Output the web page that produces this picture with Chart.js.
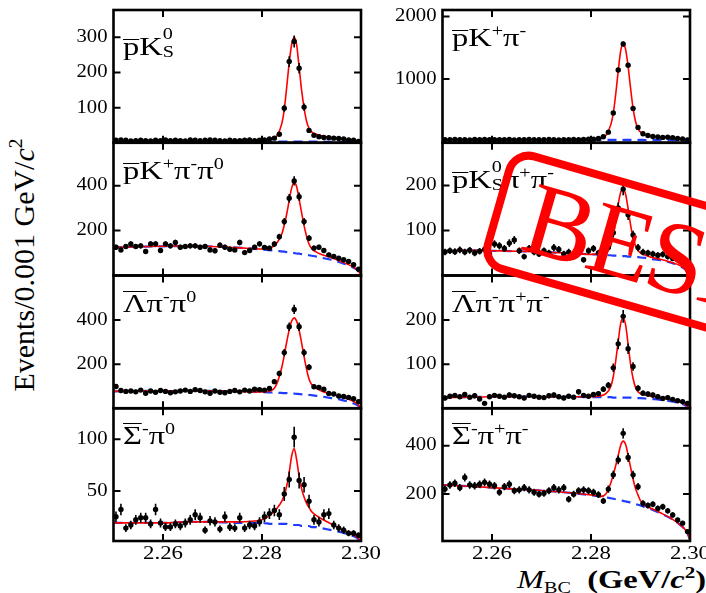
<!DOCTYPE html>
<html>
<head>
<meta charset="utf-8">
<title>M_BC fits</title>
<script src="https://cdn.jsdelivr.net/npm/chart.js@4.4.1/dist/chart.umd.min.js"></script>
<style>
  body { margin: 0; width: 706px; height: 593px; overflow: hidden; background: #fff; position: relative;
         font-family: "Liberation Serif", "Times New Roman", serif; color: #000; }
  canvas { position: absolute; }
  .tag { position: absolute; font-size: 26px; line-height: 26px; white-space: nowrap;
         transform: scaleX(1.25); transform-origin: 0 0; }
  .ov, .ovc { position: relative; }
  .ov::before, .ovc::before { content: ''; position: absolute; left: 0; right: 0; border-top: 1.6px solid #000; }
  .ov::before { top: 7px; }
  .ovc::before { top: 2px; }
  .tag sup { font-size: 62%; vertical-align: 0; position: relative; top: -0.62em; }
  .stk { display: inline-block; font-size: 62%; line-height: 18px; vertical-align: -2px; }
  .sp { font-size: 65%; position: relative; top: -0.6em; }
  .sb { font-size: 62%; position: relative; top: 0.3em; }
  #ylabel { position: absolute; left: 26px; top: 265px; font-size: 30px; line-height: 30px; white-space: nowrap;
            transform: translate(-50%, -50%) rotate(-90deg); }
  #xlabel { position: absolute; left: 517px; top: 567px; font-size: 26px; line-height: 26px; white-space: nowrap;
            transform: scaleX(1.25); transform-origin: 0 0; }
  #stamp { position: absolute; left: 512px; top: 146px; width: 420px; height: 125px; box-sizing: border-box;
           border: 8px solid #ff0000; border-radius: 24px; transform: rotate(16deg); transform-origin: 0 0; }
  #stamp span { position: absolute; left: 26px; top: 2px; font-size: 104px; line-height: 104px; color: #ff0000;
                letter-spacing: -3px; }
</style>
</head>
<body>
<div id="ylabel">Events/0.001 GeV/<i>c</i><span class="sp">2</span></div>
<div id="xlabel"><i>M</i><span class="sb">BC</span>&nbsp;&nbsp;<b>(GeV/<i>c</i><span class="sp">2</span>)</b></div>

<script>
// 0.001 GeV bins from 2.25 to 2.30
const binLo = 2.250;
const binWidth = 0.001;

// events per bin
const countsPK0S = [8,9,8,6,7,8,7,6,8,7, 9,7,8,7,6,9,8,7,8,9, 8,7,6,8,7,7,8,9,7,8,
  9,12,14,25,99,231,288,212,102,36, 22,18,16,15,14,13,12,9,8,5];
const countsPKPi = [30,28,32,27,30,26,31,29,33,28, 30,27,29,31,26,30,28,32,29,27, 30,31,28,26,29,30,33,28,31,35,
  38,50,75,150,456,1145,1560,1221,527,226, 124,97,82,72,66,70,62,50,40,25];
const countsPKPiPi0 = [126,114,129,140,129,132,107,141,141,111, 141,132,147,126,129,132,132,126,129,114,
  110,135,126,117,114,147,102,111,126,141, 125,121,140,173,240,344,421,351,240,166, 122,126,111,92,85,77,70,62,48,28];
const countsPKsPiPi = [52,55,53,57,52,56,50,54,58,48, 70,66,60,72,79,55,42,60,52,48, 55,50,62,58,48,52,45,50,35,55,
  60,50,52,62,95,150,192,135,90,62, 52,50,48,45,47,42,38,35,30,15];
const countsLamPiPi0 = [100,82,78,80,76,84,70,80,74,82, 78,72,76,80,84,78,86,82,76,70, 80,74,72,78,82,76,84,80,88,86,
  84,91,122,159,253,370,448,370,253,187, 99,96,88,69,66,57,55,51,45,32];
const countsLamPiPiPi = [24,28,30,27,32,26,29,22,12,27, 30,28,26,31,29,27,24,30,28,26, 25,29,31,27,24,28,26,38,30,28,
  32,34,44,53,92,146,208,135,95,46, 35,33,31,27,23,25,21,18,16,12];
const countsSigPi0 = [25,32,14,17,22,24,24,18,32,19, 15,15,18,16,19,22,27,24,12,21, 20,13,25,15,14,24,14,17,16,20,
  25,28,31,27,47,61,102,60,56,40, 22,20,27,28,17,14,12,9,9,7];
const countsSigPiPi = [220,237,244,226,268,237,234,240,248,240, 234,207,230,240,213,217,226,217,207,199,
  203,213,226,217,226,178,199,213,217,213, 207,197,171,220,279,341,451,351,279,230, 161,152,157,140,147,130,113,92,79,44];

// x positions where the fit curves were read
const fitX = [2.250,2.255,2.260,2.265,2.270,2.275,2.280,2.282,2.283,2.284,2.2845,2.285,2.2855,2.286,2.2865,
  2.287,2.2875,2.288,2.2885,2.289,2.2895,2.290,2.291,2.292,2.294,2.296,2.298,2.299,2.2995,2.300];

// total fit (red)
const fitPK0S = [5,5,5,5,5,5,6,10,20,55,95,160,228,280,300,278,215,150,100,62,42,32,25,21,16,12,7,4,2,0];
const fitPKPi = [28,28,28,29,29,29,31,50,95,270,450,760,1130,1450,1570,1470,1200,850,530,320,205,150,105,88,72,62,45,30,18,0];
const fitPKPiPi0 = [125,128,130,131,129,124,118,126,145,185,225,275,335,390,415,395,340,280,222,175,140,120,104,94,79,62,43,30,19,0];
const fitPKsPiPi = [55,56,55,54,52,50,47,48,52,66,88,120,158,185,192,180,148,112,84,66,56,50,45,41,36,30,22,15,9,0];
const fitLamPiPi0 = [78,80,81,81,80,78,76,83,113,187,241,302,357,396,410,395,354,297,235,179,134,110,92,80,66,54,38,26,16,0];
const fitLamPiPiPi = [25,26,27,27,27,27,27,29,34,50,72,108,152,192,205,188,145,100,68,48,38,34,31,28,25,21,15,10,6,0];
const fitSigPi0 = [19,19,19,20,20,20,22,28,33,40,46,55,68,84,91,80,64,52,44,38,34,30,26,23,18,13,9,6,4,0];
const fitSigPiPi = [237,232,226,220,214,206,196,190,200,245,280,318,360,402,419,405,360,310,262,222,195,172,152,142,122,101,73,53,37,10];

// background (blue dashed)
const bkgPK0S = [4,4,4,4,4,4,4,4,4,4,4,4,4,4,4,4,4,4,4,4,4,4,4,4,3.5,3,2.5,2,1.5,0];
const bkgPKPi = [26,26,26,26,26,26,26,26,26,26,26,26,26,26,26,26,26,25,25,25,25,25,24,24,23,21,17,13,9,0];
const bkgPKPiPi0 = [125,128,130,131,129,124,116,112,110,107,106,104,103,101,100,98,97,95,93,92,90,88,84,79,70,57,40,28,18,0];
const bkgPKsPiPi = [55,56,55,54,52,50,47,46,45,45,44,44,44,43,43,43,42,42,41,41,41,40,39,37,34,29,21,14,9,0];
const bkgLamPiPi0 = [78,80,81,81,80,78,75,73,72,71,70,70,69,68,68,67,66,65,64,63,62,61,58,55,48,40,28,19,12,0];
const bkgLamPiPiPi = [25,26,27,27,27,27,26,26,26,26,25,25,25,25,25,25,25,25,24,24,24,24,23,22,20,17,12,8,5,0];
const bkgSigPi0 = [19,19,19,20,20,19,19,18,18,18,18,18,17,17,17,17,17,16,16,16,16,15,15,14,12,10,7,5,3,0];
const bkgSigPiPi = [237,232,226,220,214,206,195,189,186,182,180,178,176,174,171,169,167,164,161,158,155,152,145,138,120,100,72,52,36,10];

// axes
const xTickVals = [2.26, 2.28, 2.30];
const yTickVals = [[100,200,300], [1000,2000], [200,400], [100,200], [200,400], [100,200], [50,100], [200,400]];
const yMins = [1, -20, 0, 0, 2, 1, 1.5, 5];
const yMaxs = [377, 2104, 591, 295, 601, 300, 130, 555];

const panelTags = [
  '<span class="ov">p</span>K<span class="stk">0<br>S</span>',
  '<span class="ov">p</span>K<sup>+</sup>π<sup>-</sup>',
  '<span class="ov">p</span>K<sup>+</sup>π<sup>-</sup>π<sup>0</sup>',
  '<span class="ov">p</span>K<span class="stk">0<br>S</span>π<sup>+</sup>π<sup>-</sup>',
  '<span class="ovc">Λ</span>π<sup>-</sup>π<sup>0</sup>',
  '<span class="ovc">Λ</span>π<sup>-</sup>π<sup>+</sup>π<sup>-</sup>',
  '<span class="ovc">Σ</span><sup>-</sup>π<sup>0</sup>',
  '<span class="ovc">Σ</span><sup>-</sup>π<sup>+</sup>π<sup>-</sup>'
];

const counts = [countsPK0S, countsPKPi, countsPKPiPi0, countsPKsPiPi, countsLamPiPi0, countsLamPiPiPi, countsSigPi0, countsSigPiPi];
const fits = [fitPK0S, fitPKPi, fitPKPiPi0, fitPKsPiPi, fitLamPiPi0, fitLamPiPiPi, fitSigPi0, fitSigPiPi];
const bkgs = [bkgPK0S, bkgPKPi, bkgPKPiPi0, bkgPKsPiPi, bkgLamPiPi0, bkgLamPiPiPi, bkgSigPi0, bkgSigPiPi];
const binCenters = countsPK0S.map((_, k) => binLo + binWidth * (k + 0.5));

// page layout of the 2x4 grid
const plotLeft = [113.5, 442.5];
const plotWidth = 247.5;
const rowTops = [10, 142.75, 275.5, 408.25];
const rowHeight = 132.75;
const serif = '"Liberation Serif", "Times New Roman", serif';
const charts = [];

function panelPlugin(i, row) {
  return {
    id: 'panel' + i,
    afterDatasetsDraw(chart) {
      const { ctx, chartArea: a, scales: { x, y } } = chart;
      ctx.save();
      ctx.beginPath();
      ctx.rect(a.left, a.top, a.width, a.height);
      ctx.clip();
      ctx.strokeStyle = '#000';
      ctx.lineWidth = 1.6;
      ctx.beginPath();
      counts[i].forEach((n, k) => {
        const px = x.getPixelForValue(binCenters[k]);
        const err = Math.sqrt(n); // poisson error bars
        ctx.moveTo(px, y.getPixelForValue(n + err));
        ctx.lineTo(px, y.getPixelForValue(n - err));
      });
      ctx.stroke();
      ctx.restore();
    },
    afterDraw(chart) {
      const { ctx, chartArea: a, scales: { x, y } } = chart;
      ctx.save();
      ctx.strokeStyle = '#000';
      ctx.lineWidth = 2;
      ctx.beginPath();
      x.ticks.forEach(t => {
        const px = x.getPixelForValue(t.value);
        ctx.moveTo(px, a.bottom); ctx.lineTo(px, a.bottom - 7);
        ctx.moveTo(px, a.top); ctx.lineTo(px, a.top + 7);
      });
      y.ticks.forEach(t => {
        const py = y.getPixelForValue(t.value);
        ctx.moveTo(a.left, py); ctx.lineTo(a.left + 7, py);
        ctx.moveTo(a.right, py); ctx.lineTo(a.right - 7, py);
      });
      ctx.stroke();
      ctx.lineWidth = 2.6;
      ctx.strokeRect(a.left, a.top, a.width, a.height);

      ctx.fillStyle = '#000';
      ctx.font = '18px ' + serif;
      ctx.textAlign = 'right';
      ctx.textBaseline = 'middle';
      y.ticks.forEach(t => {
        ctx.save();
        ctx.translate(a.left - 6, y.getPixelForValue(t.value));
        ctx.scale(1.15, 1);
        ctx.fillText(String(t.value), 0, 0);
        ctx.restore();
      });
      if (row === 3) {
        ctx.font = '19px ' + serif;
        ctx.textAlign = 'center';
        ctx.textBaseline = 'top';
        x.ticks.forEach(t => {
          ctx.save();
          ctx.translate(x.getPixelForValue(t.value), a.bottom + 4);
          ctx.scale(1.2, 1);
          ctx.fillText(t.value.toFixed(2), 0, 0);
          ctx.restore();
        });
      }
      ctx.restore();
    }
  };
}

function makePanel(i) {
  const col = i % 2, row = Math.floor(i / 2);
  const cLeft = Math.floor(plotLeft[col] - 72);
  const padL = plotLeft[col] - cLeft;
  const cTop = Math.floor(rowTops[row] - 8);
  const padT = rowTops[row] - cTop;
  const cW = Math.ceil(padL + plotWidth + 30);
  const padR = cW - padL - plotWidth;
  const cH = Math.ceil(padT + rowHeight + (row === 3 ? 40 : 8));
  const padB = cH - padT - rowHeight;

  const canvas = document.createElement('canvas');
  canvas.width = cW;
  canvas.height = cH;
  canvas.style.left = cLeft + 'px';
  canvas.style.top = cTop + 'px';
  document.body.appendChild(canvas);

  const tag = document.createElement('div');
  tag.className = 'tag';
  tag.innerHTML = panelTags[i];
  tag.style.left = (plotLeft[col] + 9) + 'px';
  tag.style.top = (rowTops[row] + 15) + 'px';
  document.body.appendChild(tag);

  charts.push(new Chart(canvas, {
    type: 'scatter',
    data: {
      datasets: [
        {
          data: counts[i].map((n, k) => ({ x: binCenters[k], y: n })),
          pointRadius: 2.7,
          pointBackgroundColor: '#000',
          pointBorderColor: '#000',
          pointBorderWidth: 0,
          clip: 0
        },
        {
          type: 'line',
          data: fitX.map((x, k) => ({ x: x, y: fits[i][k] })),
          borderColor: '#ff0000',
          borderWidth: 1.6,
          pointRadius: 0,
          cubicInterpolationMode: 'monotone',
          clip: 0
        },
        {
          type: 'line',
          data: fitX.map((x, k) => ({ x: x, y: bkgs[i][k] })),
          borderColor: '#1f3cff',
          borderWidth: 2.2,
          borderDash: [9, 6],
          pointRadius: 0,
          cubicInterpolationMode: 'monotone',
          clip: 0
        }
      ]
    },
    options: {
      responsive: false,
      animation: false,
      events: [],
      layout: { padding: { left: 0, right: padR, top: padT, bottom: 0 } },
      plugins: { legend: { display: false }, tooltip: { enabled: false } },
      scales: {
        x: {
          type: 'linear', min: 2.25, max: 2.30,
          afterBuildTicks: s => { s.ticks = xTickVals.map(v => ({ value: v })); },
          afterFit: s => { s.height = padB; },
          ticks: { display: false }, grid: { display: false }, border: { display: false }
        },
        y: {
          type: 'linear', min: yMins[i], max: yMaxs[i],
          afterBuildTicks: s => { s.ticks = yTickVals[i].map(v => ({ value: v })); },
          afterFit: s => { s.width = padL; },
          ticks: { display: false }, grid: { display: false }, border: { display: false }
        }
      }
    },
    plugins: [panelPlugin(i, row)]
  }));
}

for (let i = 0; i < 8; i++) makePanel(i);

const stamp = document.createElement('div');
stamp.id = 'stamp';
stamp.innerHTML = '<span>BESIII</span>';
document.body.appendChild(stamp);

// redraw once the serif face is ready for canvas text
Promise.all([
  document.fonts.load('18px "Liberation Serif"'),
  document.fonts.load('19px "Liberation Serif"')
]).then(() => charts.forEach(c => c.render()));
</script>
</body>
</html>
